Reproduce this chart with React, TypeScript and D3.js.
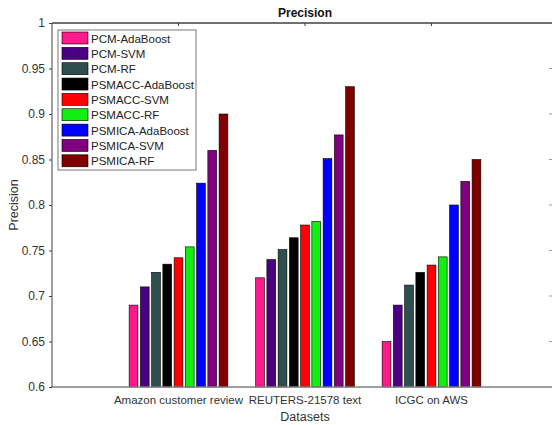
import React, { useEffect, useRef } from "react";
import * as d3 from "d3";

const datasets = ["Amazon customer review", "REUTERS-21578 text", "ICGC on AWS"];
const methods = [
  "PCM-AdaBoost",
  "PCM-SVM",
  "PCM-RF",
  "PSMACC-AdaBoost",
  "PSMACC-SVM",
  "PSMACC-RF",
  "PSMICA-AdaBoost",
  "PSMICA-SVM",
  "PSMICA-RF",
];
const colors = ["#ff1a8c", "#4b0082", "#2f4f4f", "#000000", "#ff0000", "#11ee11", "#0000ff", "#800080", "#800000"];
// one row per dataset, one value per method
const amazon = [0.69, 0.71, 0.726, 0.735, 0.742, 0.754, 0.824, 0.86, 0.9];
const reuters = [0.72, 0.74, 0.751, 0.764, 0.778, 0.782, 0.851, 0.877, 0.93];
const icgc = [0.65, 0.69, 0.712, 0.726, 0.734, 0.743, 0.8, 0.826, 0.85];
const yTicks = [0.6, 0.65, 0.7, 0.75, 0.8, 0.85, 0.9, 0.95, 1];

const App = () => {
  const ref = useRef(null);

  useEffect(() => {
    const svg = d3.select(ref.current);
    svg.selectAll("*").remove();

    const values = [amazon, reuters, icgc];
    const left = 52, right = 558, top = 23, bottom = 387;
    const font = "'Liberation Sans', Arial, sans-serif";
    const axisColor = "#404040";

    const x = d3.scaleLinear().domain([0, 4]).range([left, right]);
    const y = d3.scaleLinear().domain([0.6, 1]).range([bottom, top]);
    const step = x(1) - x(0);
    const inner = d3
      .scaleBand()
      .domain(methods)
      .range([-0.4 * step, 0.4 * step])
      .paddingInner(0.22)
      .paddingOuter(0.11);

    svg.append("rect").attr("x", 0).attr("y", 0).attr("width", 552).attr("height", 425).attr("fill", "#fff");

    // bars
    datasets.forEach((d, i) => {
      const g = svg.append("g").attr("transform", `translate(${x(i + 1)},0)`);
      g.selectAll("rect")
        .data(values[i])
        .enter()
        .append("rect")
        .attr("x", (_, j) => inner(methods[j]))
        .attr("y", (v) => y(v))
        .attr("width", inner.bandwidth())
        .attr("height", (v) => bottom - y(v))
        .attr("fill", (_, j) => colors[j])
        .attr("stroke", "#000")
        .attr("stroke-width", 0.6);
    });

    // box
    svg.append("line").attr("x1", left).attr("x2", right).attr("y1", top).attr("y2", top)
      .attr("stroke", axisColor).attr("stroke-width", 1.3);
    svg.append("line").attr("x1", left).attr("x2", right).attr("y1", bottom).attr("y2", bottom)
      .attr("stroke", "#808080").attr("stroke-width", 1.3);
    svg.append("line").attr("x1", left).attr("x2", left).attr("y1", top).attr("y2", bottom)
      .attr("stroke", axisColor).attr("stroke-width", 1);

    // y axis
    const yAxis = svg.append("g").attr("transform", `translate(${left},0)`)
      .call(d3.axisLeft(y).tickValues(yTicks).tickSize(3).tickPadding(4).tickFormat((v) => String(v)));
    yAxis.select(".domain").remove();
    yAxis.selectAll("line").attr("stroke", axisColor);
    yAxis.selectAll("text").attr("font-family", font).attr("font-size", 12).attr("fill", "#333");

    // right-side ticks
    svg.append("g").selectAll("line")
      .data(yTicks.filter((t) => t > 0.6 && t < 1))
      .enter()
      .append("line")
      .attr("x1", 549).attr("x2", 552)
      .attr("y1", (t) => y(t)).attr("y2", (t) => y(t))
      .attr("stroke", "#999");

    // top ticks
    svg.append("g").selectAll("line")
      .data([1, 2, 3])
      .enter()
      .append("line")
      .attr("x1", (t) => x(t)).attr("x2", (t) => x(t))
      .attr("y1", top).attr("y2", top + 3)
      .attr("stroke", axisColor);

    // x labels
    svg.append("g").selectAll("text")
      .data(datasets)
      .enter()
      .append("text")
      .attr("x", (_, i) => x(i + 1))
      .attr("y", 404)
      .attr("text-anchor", "middle")
      .attr("font-family", font)
      .attr("font-size", 11.5)
      .attr("fill", "#333")
      .text((d) => d);

    svg.append("text").attr("x", x(2)).attr("y", 421).attr("text-anchor", "middle")
      .attr("font-family", font).attr("font-size", 12.5).attr("fill", "#333").text("Datasets");

    svg.append("text").attr("transform", `translate(18,${(top + bottom) / 2}) rotate(-90)`)
      .attr("text-anchor", "middle").attr("font-family", font).attr("font-size", 12.5)
      .attr("fill", "#333").text("Precision");

    svg.append("text").attr("x", x(2)).attr("y", 17).attr("text-anchor", "middle")
      .attr("font-family", font).attr("font-size", 12).attr("font-weight", "bold")
      .attr("fill", "#111").text("Precision");

    // legend
    const lg = svg.append("g").attr("transform", "translate(58,30)");
    lg.append("rect").attr("width", 138).attr("height", 140).attr("fill", "#fff")
      .attr("stroke", "#555").attr("stroke-width", 0.8);
    const rows = lg.selectAll("g.row")
      .data(methods)
      .enter()
      .append("g")
      .attr("class", "row")
      .attr("transform", (_, i) => `translate(4,${2 + i * 15.35})`);
    rows.append("rect").attr("width", 26).attr("height", 12)
      .attr("fill", (_, i) => colors[i]).attr("stroke", "#000").attr("stroke-width", 0.6);
    rows.append("text").attr("x", 29).attr("y", 10.5)
      .attr("font-family", font).attr("font-size", 11.5).attr("fill", "#222")
      .text((d) => d);
  }, []);

  return (
    <svg
      ref={ref}
      width={552}
      height={425}
      style={{ position: "absolute", left: 0, top: 0 }}
    />
  );
};

export default App;
